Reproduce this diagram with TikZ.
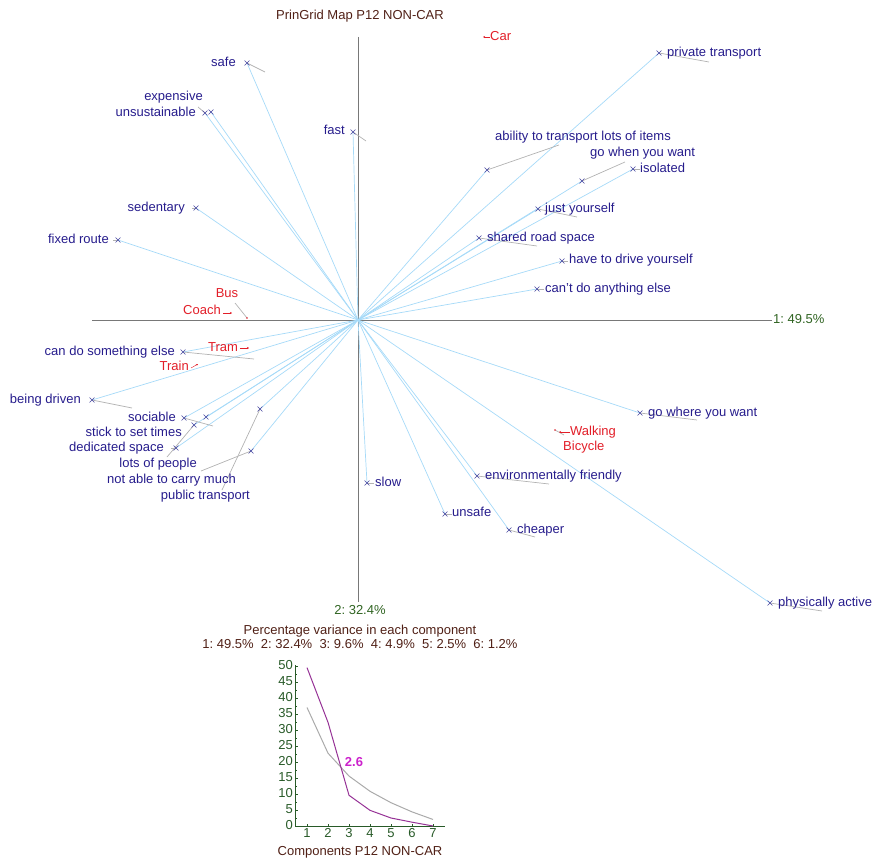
\documentclass[tikz,border=0pt]{standalone}
\usepackage{fontspec}
\setmainfont{Liberation Sans}
\usetikzlibrary{shapes.misc,arrows.meta}
\frenchspacing
\definecolor{conscol}{RGB}{38,28,140}
\definecolor{mkcol}{RGB}{70,70,160}
\definecolor{raycol}{RGB}{166,218,248}
\definecolor{leadcol}{RGB}{178,178,178}
\definecolor{elemcol}{RGB}{226,30,40}
\definecolor{axiscol}{RGB}{120,120,120}
\definecolor{titlecol}{RGB}{80,32,22}
\definecolor{pccol}{RGB}{48,100,34}
\definecolor{screecol}{RGB}{40,90,40}
\definecolor{varcol}{RGB}{150,50,150}
\definecolor{stickcol}{RGB}{170,170,170}
\definecolor{cutcol}{RGB}{204,34,204}

\begin{document}
\begin{tikzpicture}[x=1pt, y=-1pt, >=Stealth,
    txt/.style={font=\fontsize{13}{15}\selectfont, inner sep=0pt, text height=9.2pt, text depth=2.6pt},
    lbl/.style={txt, text=conscol},
    elem/.style={txt, text=elemcol},
    mk/.style={cross out, draw=mkcol, minimum size=4.2pt, inner sep=0pt, line width=0.6pt},
    ray/.style={draw=raycol, line width=0.7pt},
    lead/.style={draw=leadcol, line width=0.7pt},
    elarr/.style={draw=elemcol, line width=0.4pt, -{Stealth[length=2pt, width=2pt]}},
    axis/.style={draw=axiscol, line width=0.7pt},
    saxis/.style={draw=screecol, line width=0.9pt}]
    \useasboundingbox (0,0) rectangle (872,861);

    % --- Title ---
    \node[txt, text=titlecol] (title) at (360,16) {PrinGrid Map P12 NON-CAR};

    % --- Principal axes ---
    \coordinate (O) at (358,320);
    \coordinate (xl) at (92,320);
    \coordinate (xr) at (772,320);
    \coordinate (yt) at (358,37);
    \coordinate (yb) at (358,602);
    \draw[axis] (xl) -- (xr);
    \draw[axis] (yt) -- (yb);
    \node[txt, text=pccol, anchor=west] (pc1) at (773,320) {1: 49.5\%};
    \node[txt, text=pccol] (pc2) at (360,611) {2: 32.4\%};

    % --- Construct positions ---
    \coordinate (safe) at (247,63);
    \coordinate (expensive) at (211,112);
    \coordinate (unsust) at (205,113);
    \coordinate (fast) at (353,132);
    \coordinate (sedentary) at (196,208);
    \coordinate (fixedroute) at (118,240);
    \coordinate (private) at (659,53);
    \coordinate (ability) at (487,170);
    \coordinate (gowhen) at (582,181);
    \coordinate (isolated) at (633,169);
    \coordinate (justyou) at (538,209);
    \coordinate (shared) at (479,238);
    \coordinate (drive) at (562,261);
    \coordinate (cantdo) at (537,289);
    \coordinate (cando) at (183,352);
    \coordinate (driven) at (92,400);
    \coordinate (sociable) at (184,418);
    \coordinate (settimes) at (206,417);
    \coordinate (lots) at (194,425);
    \coordinate (dedicated) at (176,448);
    \coordinate (publictr) at (260,409);
    \coordinate (notcarry) at (251,451);
    \coordinate (slow) at (367,483);
    \coordinate (gowhere) at (640,413);
    \coordinate (envfr) at (477,476);
    \coordinate (unsafe) at (445,514);
    \coordinate (cheaper) at (509,530);
    \coordinate (active) at (770,603);

    % rays from the origin
    \foreach \m in {safe,expensive,unsust,fast,sedentary,fixedroute,private,ability,
        gowhen,isolated,justyou,shared,drive,cantdo,cando,driven,sociable,settimes,
        lots,dedicated,publictr,notcarry,slow,gowhere,envfr,unsafe,cheaper,active}
        \draw[ray] (O) -- (\m);

    % leader lines
    \draw[lead] (safe) -- ++(18,9);
    \draw[lead] (unsust) -- ++(-7,-6);
    \draw[lead] (fast) -- ++(13,9);
    \draw[lead] (sedentary) -- ++(-4,0);
    \draw[lead] (fixedroute) -- ++(-5,0);
    \draw[lead] (private) -- ++(50,9);
    \draw[lead] (ability) -- ++(72,-25);
    \draw[lead] (gowhen) -- ++(43,-19);
    \draw[lead] (isolated) -- ++(7,0);
    \draw[lead] (justyou) -- ++(39,8);
    \draw[lead] (shared) -- ++(58,8);
    \draw[lead] (drive) -- ++(6,0);
    \draw[lead] (cantdo) -- ++(7,0);
    \draw[lead] (cando) -- ++(71,7);
    \draw[lead] (driven) -- ++(40,8);
    \draw[lead] (sociable) -- ++(29,8);
    \draw[lead] (lots) -- ++(-27,32);
    \draw[lead] (dedicated) -- ++(-5,0);
    \draw[lead] (publictr) -- ++(-38,81);
    \draw[lead] (notcarry) -- ++(-50,20);
    \draw[lead] (slow) -- ++(7,0);
    \draw[lead] (gowhere) -- ++(57,7);
    \draw[lead] (envfr) -- ++(72,8);
    \draw[lead] (unsafe) -- ++(7,0);
    \draw[lead] (cheaper) -- ++(26,7);
    \draw[lead] (active) -- ++(52,8);

    % markers
    \foreach \m in {safe,expensive,unsust,fast,sedentary,fixedroute,private,ability,
        gowhen,isolated,justyou,shared,drive,cantdo,cando,driven,sociable,settimes,
        lots,dedicated,publictr,notcarry,slow,gowhere,envfr,unsafe,cheaper,active}
        \node[mk] (\m-x) at (\m) {};

    % construct labels, left side
    \node[lbl, anchor=east] (safe-l) at (236,63) {safe};
    \node[lbl, anchor=east] (expensive-l) at (203,97) {expensive};
    \node[lbl, anchor=east] (unsust-l) at (196,113) {unsustainable};
    \node[lbl, anchor=east] (fast-l) at (345,131) {fast};
    \node[lbl, anchor=east] (sedentary-l) at (185,208) {sedentary};
    \node[lbl, anchor=east] (fixedroute-l) at (109,240) {fixed route};
    \node[lbl, anchor=east] (cando-l) at (175,352) {can do something else};
    \node[lbl, anchor=east] (driven-l) at (81,400) {being driven};
    \node[lbl, anchor=east] (sociable-l) at (176,418) {sociable};
    \node[lbl, anchor=east] (settimes-l) at (182,433) {stick to set times};
    \node[lbl, anchor=east] (dedicated-l) at (164,448) {dedicated space};
    \node[lbl, anchor=east] (lots-l) at (197,464) {lots of people};
    \node[lbl, anchor=east] (notcarry-l) at (236,480) {not able to carry much};
    \node[lbl, anchor=east] (publictr-l) at (250,496) {public transport};

    % construct labels, right side
    \node[lbl, anchor=west] (private-l) at (667,53) {private transport};
    \node[lbl, anchor=west] (ability-l) at (495,137) {ability to transport lots of items};
    \node[lbl, anchor=west] (gowhen-l) at (590,153) {go when you want};
    \node[lbl, anchor=west] (isolated-l) at (640,169) {isolated};
    \node[lbl, anchor=west] (justyou-l) at (545,209) {just yourself};
    \node[lbl, anchor=west] (shared-l) at (487,238) {shared road space};
    \node[lbl, anchor=west] (drive-l) at (569,260) {have to drive yourself};
    \node[lbl, anchor=west] (cantdo-l) at (545,289) {can't do anything else};
    \node[lbl, anchor=west] (slow-l) at (375,483) {slow};
    \node[lbl, anchor=west] (gowhere-l) at (648,413) {go where you want};
    \node[lbl, anchor=west] (envfr-l) at (485,476) {environmentally friendly};
    \node[lbl, anchor=west] (unsafe-l) at (452,513) {unsafe};
    \node[lbl, anchor=west] (cheaper-l) at (517,530) {cheaper};
    \node[lbl, anchor=west] (active-l) at (778,603) {physically active};

    % --- Elements ---
    \node[elem, anchor=west] (car) at (490,37) {Car};
    \coordinate (car-p) at (483,37);
    \draw[elarr] (car.west) -- (car-p);
    \node[elem] (bus) at (227,294) {Bus};
    \node[elem, anchor=east] (coach) at (221,311) {Coach};
    \coordinate (coach-p) at (232,313);
    \draw[elarr] ([xshift=2pt,yshift=-2pt]coach.east) -- (coach-p);
    \coordinate (bus-a) at (235,303);
    \coordinate (bus-p) at (247,318);
    \draw[lead] (bus-a) -- (bus-p);
    \fill[elemcol] (bus-p) circle (0.9);
    \node[elem, anchor=west] (tram) at (208,348) {Tram};
    \coordinate (tram-p) at (249,348);
    \draw[elarr] ([xshift=2pt]tram.east) -- (tram-p);
    \node[elem, anchor=east] (train) at (189,367) {Train};
    \coordinate (train-p) at (198,364);
    \draw[elarr] ([xshift=2pt,yshift=-1pt]train.east) -- (train-p);
    \node[elem, anchor=west] (walking) at (570,432) {Walking};
    \node[elem, anchor=west] (bicycle) at (563,447) {Bicycle};
    \coordinate (walk-p) at (559,432);
    \coordinate (bike-p) at (555,430);
    \draw[lead] (bike-p) -- ++(9,5);
    \draw[elarr] (walking.west) -- (walk-p);
    \fill[elemcol] (bike-p) circle (0.9);

    % --- Variance summary ---
    \node[txt, text=titlecol] (vartitle) at (360,631) {Percentage variance in each component};
    \node[txt, text=titlecol] (varvals) at (360,645)
        {1: 49.5\%\ \ 2: 32.4\%\ \ 3: 9.6\%\ \ 4: 4.9\%\ \ 5: 2.5\%\ \ 6: 1.2\%};

    % --- Scree plot ---
    \begin{scope}[shift={(286,826)}, x=21pt, y=3.2pt]
        \coordinate (s-top) at (0.4286,50.3);
        \coordinate (s-org) at (0.4286,0);
        \coordinate (s-end) at (7.57,0);
        \draw[saxis] (s-top) -- (s-org) -- (s-end);
        \foreach \v in {0,5,...,50} {
            \draw[saxis] (0.4286,\v) -- ++(3pt,0);
            \node[txt, text=screecol, anchor=east] (s-y\v) at ([xshift=-2pt]0.4286,\v) {\v};
        }
        \foreach \v in {2.5,7.5,...,47.5}
            \draw[saxis] (0.4286,\v) -- ++(1.8pt,0);
        \foreach \k in {1,...,7} {
            \draw[saxis] (\k,0) -- ++(0,2pt);
            \node[txt, text=screecol, anchor=north] (s-x\k) at ([yshift=-2pt]\k,0) {\k};
        }
        % broken-stick reference
        \draw[draw=stickcol, line width=1pt] plot coordinates
            {(1,37.04) (2,22.76) (3,15.61) (4,10.85) (5,7.28) (6,4.42) (7,2.04)};
        % observed variance
        \draw[draw=varcol, line width=1pt] plot coordinates
            {(1,49.5) (2,32.4) (3,9.6) (4,4.9) (5,2.5) (6,1.2) (7,0)};
    \end{scope}
    \node[txt, text=cutcol, font=\fontsize{13}{15}\selectfont\bfseries] (cut) at (354,763) {2.6};
    \node[txt, text=titlecol] (s-title) at (360,852) {Components P12 NON-CAR};
\end{tikzpicture}
\end{document}
